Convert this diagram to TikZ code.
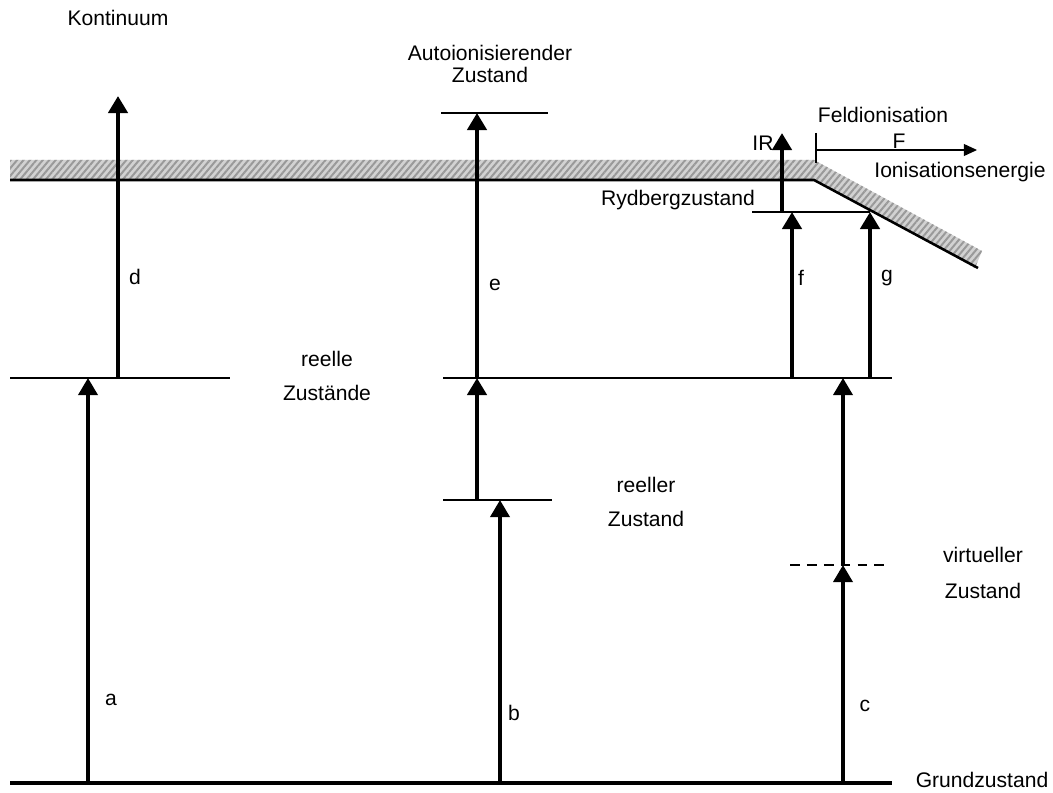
\documentclass[tikz,border=0pt]{standalone}
\usepackage{fontspec}
\setmainfont{Liberation Sans}
\usetikzlibrary{arrows.meta,patterns.meta}

\begin{document}
\begin{tikzpicture}[x=0.025cm, y=-0.025cm, every node/.style={font=\fontsize{15}{18}\selectfont, inner sep=0pt},
    level/.style={line width=1.4pt}, arrow/.style={-{Triangle[width=0.475cm,length=0.425cm]}, line width=2.5pt},
    bigarrow/.style={arrow, line width=3.5pt}, twoline/.style={align=center, font=\fontsize{15}{24}\selectfont},
    hatch/.style={fill=gray!35, postaction={pattern={Lines[angle=50,distance=3.5pt,line width=1.4pt]}, pattern color=gray!80}}]
    \useasboundingbox (0,0) rectangle (1053,793);
    % Kontinuum / Ionisationsgrenze
    \path[hatch] (10,160) -- (814,160) -- (982,251) -- (975,268) -- (814,180) -- (10,180) -- cycle;
    \coordinate (ion0) at (10,180);
    \coordinate (ion1) at (814,180);
    \coordinate (ion2) at (978,268);
    \draw[line width=1.8pt] (ion0) -- (ion1) -- (ion2);
    % Niveaus
    \coordinate (gr0) at (10,783);    \coordinate (gr1) at (892,783);
    \coordinate (re0) at (10,378);    \coordinate (re1) at (230,378);
    \coordinate (rm0) at (443,378);   \coordinate (rm1) at (892,378);
    \coordinate (rl0) at (443,500);   \coordinate (rl1) at (552,500);
    \coordinate (au0) at (441,113);   \coordinate (au1) at (548,113);
    \coordinate (ry0) at (752,212);   \coordinate (ry1) at (870,212);
    \coordinate (vi0) at (790,565);   \coordinate (vi1) at (888,565);
    \draw[line width=3.5pt] (gr0) -- (gr1);
    \draw[level] (re0) -- (re1);
    \draw[level] (rm0) -- (rm1);
    \draw[level] (rl0) -- (rl1);
    \draw[level] (au0) -- (au1);
    \draw[level] (ry0) -- (ry1);
    \draw[level, dash pattern=on 7pt off 5pt] (vi0) -- (vi1);
    % Anregungen
    \foreach \n/\x/\ya/\yb in {a/88/783/378, b/500/783/500, c/843/783/565, cc/843/565/378}{
      \coordinate (\n0) at (\x,\ya);
      \coordinate (\n1) at (\x,\yb);
      \draw[arrow] (\n0) -- (\n1);
    }
    \foreach \n/\x/\ya/\yb in {d/118/378/96, bb/477/500/378, e/477/378/113, f/792/378/212, g/870/378/212, ir/782/212/133}{
      \coordinate (\n0) at (\x,\ya);
      \coordinate (\n1) at (\x,\yb);
      \draw[bigarrow] (\n0) -- (\n1);
    }
    % Feld
    \coordinate (fa) at (816,133);
    \coordinate (fb) at (816,163);
    \coordinate (f0) at (816,150);
    \coordinate (f1) at (977,150);
    \draw[line width=0.8pt] (fa) -- (fb);
    \draw[line width=0.8pt, -{Triangle[width=0.3cm,length=0.33cm]}] (f0) -- (f1);
    % Beschriftungen
    \node (kont) at (118,18) {Kontinuum};
    \node[align=center, font=\fontsize{15}{16}\selectfont] (auto) at (490,64) {Autoionisierender\\Zustand};
    \node (feld) at (883,115) {Feldionisation};
    \node (fl) at (899,141) {F};
    \node (ionis) at (960,172) {Ionisationsenergie};
    \node (irl) at (763,143) {IR};
    \node (ryd) at (678,200) {Rydbergzustand};
    \node[twoline] (reelle) at (327,376) {reelle\\Zustände};
    \node[twoline] (reeller) at (646,502) {reeller\\Zustand};
    \node[twoline, font=\fontsize{15}{26}\selectfont] (virt) at (983,573) {virtueller\\Zustand};
    \node (grund) at (982,780) {Grundzustand};
    \node (la) at (111,700) {a};
    \node (lb) at (514,713) {b};
    \node (lc) at (865,706) {c};
    \node (ld) at (135,277) {d};
    \node (le) at (495,285) {e};
    \node (lf) at (801,278) {f};
    \node (lg) at (887,278) {g};
\end{tikzpicture}
\end{document}
